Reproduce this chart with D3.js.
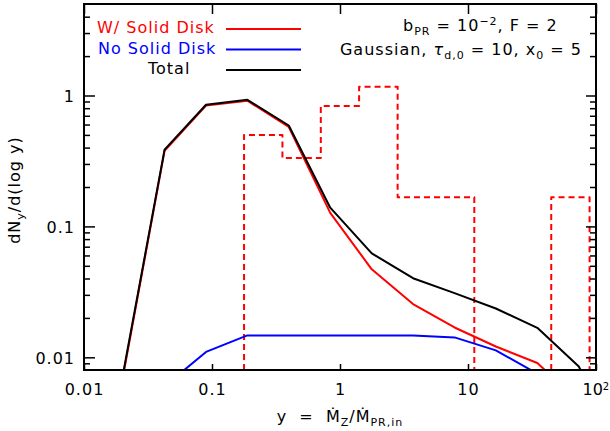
<!DOCTYPE html>
<html>
<head>
<meta charset="utf-8">
<script src="https://cdn.jsdelivr.net/npm/d3@7"></script>
<style>
body { margin: 0; background: #fff; }
svg text { font-family: "DejaVu Sans", sans-serif; font-size: 16px; letter-spacing: 1px; white-space: pre; }
.axis path.domain { display: none; }
.axis line { stroke: #000; stroke-width: 1.5; }
.curve { fill: none; stroke-width: 2; stroke-linejoin: round; }
</style>
</head>
<body>
<script>
// y = Mdot_Z / Mdot_PR,in sample points (log spaced)
var yRatio   = [0.0202, 0.0426, 0.0898, 0.189, 0.398, 0.839, 1.77, 3.72, 7.85, 16.5, 34.8, 73.4, 154.6];
var withDisk = [0.0072, 0.378, 0.838, 0.912, 0.575, 0.127, 0.047, 0.0255, 0.0169, 0.0121, 0.00905, 0.0046, 0.0005];
var noDisk   = [0.0005, 0.006, 0.011, 0.0147, 0.0147, 0.0147, 0.0147, 0.0147, 0.0142, 0.0113, 0.0075, 0.004, 0.001];
var total    = [0.0075, 0.386, 0.85, 0.927, 0.59, 0.139, 0.0623, 0.0402, 0.0309, 0.0236, 0.0168, 0.0085, 0.002];

// dashed histogram (bin edges and heights)
var histEdges = [0.178, 0.355, 0.708, 1.41, 2.82, 5.62, 11.2, 22.4, 44.7, 89.1];
var histFrac  = [0.5, 0.333, 0.833, 1.167, 0.167, 0.167, 0, 0, 0.167];

var xTicks = [0.01, 0.1, 1, 10, 100],
    yTicks = [0.01, 0.1, 1],
    yMinor = [0.009, 0.02, 0.03, 0.04, 0.05, 0.06, 0.07, 0.08, 0.09,
              0.2, 0.3, 0.4, 0.5, 0.6, 0.7, 0.8, 0.9, 2, 3, 4];

var m = [4, 14, 61, 84],          // top, right, bottom, left
    W = 610, H = 431,
    w = W - m[1] - m[3],
    h = H - m[0] - m[2];

var x = d3.scaleLog().domain([0.01, 100]).range([0, w]),
    y = d3.scaleLog().domain([0.008, 5]).range([h, 0]);

var svg = d3.select("body").append("svg")
    .attr("width", W)
    .attr("height", H);

var g = svg.append("g")
    .attr("transform", "translate(" + m[3] + "," + m[0] + ")");

g.append("clipPath").attr("id", "clip")
  .append("rect").attr("width", w).attr("height", h);

// zero or tiny values fall below the frame and get clipped
function yv(v) { return v > 0 ? y(v) : h + 30; }

var plot = g.append("g").attr("clip-path", "url(#clip)");

// histogram as a step outline
var steps = [[x(histEdges[0]), h + 30]];
histFrac.forEach(function(v, i) {
  steps.push([x(histEdges[i]), yv(v)]);
  steps.push([x(histEdges[i + 1]), yv(v)]);
});
steps.push([x(histEdges[histEdges.length - 1]), h + 30]);

plot.append("path")
    .attr("class", "curve")
    .attr("d", d3.line()(steps))
    .style("stroke", "#ff0000")
    .style("stroke-dasharray", "6,4");

var line = d3.line()
    .x(function(d, i) { return x(yRatio[i]); })
    .y(function(d) { return yv(d); });

[[noDisk, "#0000ff"], [withDisk, "#ff0000"], [total, "#000"]].forEach(function(s) {
  plot.append("path")
      .attr("class", "curve")
      .attr("d", line(s[0]))
      .style("stroke", s[1]);
});

// axes, ticks pointing inward
g.append("g").attr("class", "axis")
    .attr("transform", "translate(0," + h + ")")
    .call(d3.axisBottom(x).tickValues(xTicks).tickSize(-6).tickPadding(13.5)
      .tickFormat(function(d) { return d === 100 ? "10" : String(d); }))
  .selectAll("text")
    .style("font-size", "16px")
    .filter(function(d) { return d === 100; })
    .attr("text-anchor", "start").attr("x", -14)
    .style("letter-spacing", "0px")
    .append("tspan").attr("dy", "-0.45em").style("font-size", "10px").text("2");

g.append("g").attr("class", "axis")
    .call(d3.axisTop(x).tickValues(xTicks).tickSize(-10).tickFormat(""));

g.append("g").attr("class", "axis")
    .call(d3.axisLeft(y).tickValues(yTicks).tickSize(-11).tickPadding(9)
      .tickFormat(function(d) { return String(d); }))
  .selectAll("text").attr("dy", "0.4em").style("font-size", "16px");

g.append("g").attr("class", "axis")
    .call(d3.axisLeft(y).tickValues(yMinor).tickSize(-6).tickFormat(""));

g.append("g").attr("class", "axis")
    .attr("transform", "translate(" + w + ",0)")
    .call(d3.axisRight(y).tickValues(yTicks).tickSize(-10).tickFormat(""));

g.append("g").attr("class", "axis")
    .attr("transform", "translate(" + w + ",0)")
    .call(d3.axisRight(y).tickValues(yMinor).tickSize(-6).tickFormat(""));

// frame
g.append("rect")
    .attr("width", w).attr("height", h)
    .style("fill", "none").style("stroke", "#000").style("stroke-width", 2);

// axis titles
var xt = svg.append("text")
    .attr("x", m[3] + w / 2).attr("y", 422)
    .attr("text-anchor", "middle");
xt.append("tspan").text("y  =  \u1E40");
xt.append("tspan").attr("dy", 4).style("font-size", "11px").text("Z");
xt.append("tspan").attr("dy", -4).text("/\u1E40");
xt.append("tspan").attr("dy", 4).style("font-size", "11px").text("PR,in");

var yt = svg.append("text")
    .attr("transform", "translate(19.5," + 190 + ") rotate(-90)")
    .attr("text-anchor", "middle");
yt.append("tspan").text("dN");
yt.append("tspan").attr("dy", 4).style("font-size", "11px").text("y");
yt.append("tspan").attr("dy", -4).text("/d(log y)");

// legend
var legend = [
  { label: "W/ Solid Disk", color: "#ff0000", tx: 97, ly: 29 },
  { label: "No Solid Disk", color: "#0000ff", tx: 98, ly: 49.5 },
  { label: "Total", color: "#000", tx: 148, ly: 70 }
];
legend.forEach(function(d) {
  svg.append("text")
      .attr("x", d.tx).attr("y", d.ly + 4)
      .style("fill", d.color)
      .text(d.label);
  svg.append("line")
      .attr("x1", 226).attr("x2", 301)
      .attr("y1", d.ly).attr("y2", d.ly)
      .style("stroke", d.color).style("stroke-width", 2);
});

// parameter note, top right
var t1 = svg.append("text").attr("x", 403).attr("y", 31);
t1.append("tspan").text("b");
t1.append("tspan").attr("dy", 4).style("font-size", "11px").text("PR");
t1.append("tspan").attr("dy", -4).text(" = 10");
t1.append("tspan").attr("dy", -6).style("font-size", "11px").text("\u22122");
t1.append("tspan").attr("dy", 6).text(", F = 2");

var t2 = svg.append("text").attr("x", 582).attr("y", 55).attr("text-anchor", "end");
t2.append("tspan").text("Gaussian, ");
t2.append("tspan").style("font-style", "italic").text("\u03C4");
t2.append("tspan").attr("dy", 4).style("font-size", "11px").text("d,0");
t2.append("tspan").attr("dy", -4).text(" = 10, x");
t2.append("tspan").attr("dy", 4).style("font-size", "11px").text("0");
t2.append("tspan").attr("dy", -4).text(" = 5");
</script>
</body>
</html>
